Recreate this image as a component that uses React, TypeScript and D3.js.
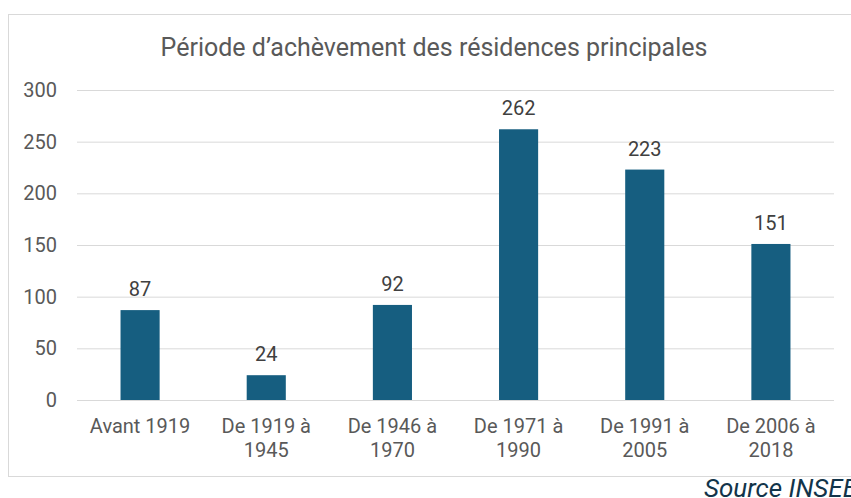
import React from 'react';
import * as d3 from 'd3';

const categories = [
  ['Avant 1919'],
  ['De 1919 à', '1945'],
  ['De 1946 à', '1970'],
  ['De 1971 à', '1990'],
  ['De 1991 à', '2005'],
  ['De 2006 à', '2018'],
];
const values = [87, 24, 92, 262, 223, 151];
const yTicks = [0, 50, 100, 150, 200, 250, 300];

const W = 851;
const H = 498;
const font = 'Roboto, "Noto Sans", sans-serif';

const App = () => {
  const margin = { top: 90, right: 17, bottom: 98, left: 77 };

  const x = d3.scaleBand<number>()
    .domain(d3.range(values.length))
    .range([margin.left, W - margin.right])
    .paddingInner(0.69)
    .paddingOuter(0.345);

  const y = d3.scaleLinear()
    .domain([0, 300])
    .range([H - margin.bottom, margin.top]);

  return (
    <svg width={W} height={H} style={{ position: 'absolute', left: 0, top: 0 }} fontFamily={font}>
      <rect x={8.5} y={14.5} width={W} height={462} fill="#fff" stroke="#d9d9d9" />
      <text x={434} y={56} textAnchor="middle" fontSize={25} fill="#595959">
        Période d’achèvement des résidences principales
      </text>

      {/* grid + y labels */}
      {yTicks.map(t => (
        <g key={t}>
          <line x1={margin.left} x2={W - margin.right} y1={y(t) + 0.5} y2={y(t) + 0.5}
            stroke="#d9d9d9" strokeWidth={1} />
          <text x={57} y={y(t)} dy="0.35em" textAnchor="end" fontSize={20} fill="#595959">{t}</text>
        </g>
      ))}

      {/* bars */}
      {values.map((v, i) => (
        <g key={i}>
          <rect x={x(i)} y={y(v)} width={x.bandwidth()} height={y(0) - y(v)} fill="#165e80" />
          <text x={x(i)! + x.bandwidth() / 2} y={y(v) - 14} textAnchor="middle" fontSize={20} fill="#404040">{v}</text>
          {categories[i].map((line, j) => (
            <text key={j} x={x(i)! + x.bandwidth() / 2} y={433 + j * 24} textAnchor="middle"
              fontSize={20} fill="#595959">{line}</text>
          ))}
        </g>
      ))}

      <text x={704} y={497} fontSize={26} fontStyle="italic" fill="#12344a">Source INSEE</text>
    </svg>
  );
};

export default App;
